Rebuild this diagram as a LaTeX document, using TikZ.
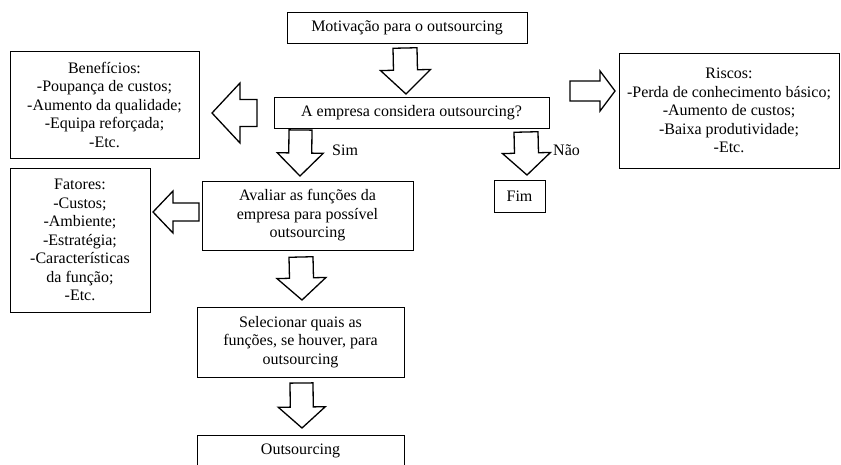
\documentclass[tikz,border=0pt]{standalone}
\usepackage{fontspec}
\setmainfont{Liberation Serif}
\usetikzlibrary{calc}

\tikzset{
  txt/.style={font=\fontsize{16}{18.5}\selectfont},
  box/.style={txt, draw, line width=0.9pt, align=center, inner sep=0pt},
  blockarr/.style={draw, line width=1.3pt, fill=white, line join=miter},
  lbl/.style={txt, inner sep=0pt, anchor=west}
}

% Hollow block arrow from tail #1 to tip #2:
% #3 half shaft width, #4 half head width, #5 head length
\newcommand\blockarrow[5]{%
  \path ($#2!#5!#1$) coordinate (bah);
  \draw[blockarr] ($#1!#3!90:#2$) -- ($(bah)!#3!90:#2$) -- ($(bah)!#4!90:#2$)
    -- #2 -- ($(bah)!#4!-90:#2$) -- ($(bah)!#3!-90:#2$) -- ($#1!#3!-90:#2$) -- cycle;%
}

\begin{document}
\begin{tikzpicture}[x=1pt, y=-1pt]
  \clip (0,0) rectangle (841,464);
  \useasboundingbox (0,0) rectangle (841,464);

  % boxes
  \node[box, minimum width=240pt, minimum height=31pt] (motiv) at (407,27.5)
    {Motivação para o outsourcing};
  \node[box, minimum width=275pt, minimum height=31pt] (emp) at (411.5,112.5)
    {A empresa considera outsourcing?};
  \node[box, minimum width=189pt, minimum height=107pt] (benef) at (104.5,104.5)
    {Benefícios:\\-Poupança de custos;\\-Aumento da qualidade;\\-Equipa reforçada;\\-Etc.};
  \node[box, minimum width=220pt, minimum height=115pt] (riscos) at (729,110.5)
    {Riscos:\\-Perda de conhecimento básico;\\-Aumento de custos;\\-Baixa produtividade;\\-Etc.};
  \node[box, minimum width=51pt, minimum height=32pt] (fim) at (519.5,196) {Fim};
  \node[box, minimum width=211pt, minimum height=69pt] (aval) at (307.5,215.5)
    {Avaliar as funções da\\empresa para possível\\outsourcing};
  \node[box, minimum width=140pt, minimum height=144pt] (fat) at (80,240)
    {Fatores:\\-Custos;\\-Ambiente;\\-Estratégia;\\-Características\\da função;\\-Etc.};
  \node[box, minimum width=207pt, minimum height=70pt] (selec) at (300.5,342)
    {Selecionar quais as\\funções, se houver, para\\outsourcing};
  \node[box, minimum width=207pt, minimum height=31pt] (outs) at (300.5,450.5)
    {Outsourcing};

  % arrow end points
  \coordinate (m1) at (405,48);    \coordinate (m2) at (406,94);
  \coordinate (b1) at (257,113);   \coordinate (b2) at (212,113);
  \coordinate (r1) at (570,91);    \coordinate (r2) at (615,91);
  \coordinate (s1) at (300.5,130); \coordinate (s2) at (300,176);
  \coordinate (n1) at (526,132);   \coordinate (n2) at (527,175);
  \coordinate (f1) at (199,212);   \coordinate (f2) at (153,212);
  \coordinate (v1) at (301,257);   \coordinate (v2) at (302,300);
  \coordinate (e1) at (301.5,383); \coordinate (e2) at (302,428);

  % block arrows
  \blockarrow{(m1)}{(m2)}{12pt}{25pt}{24pt}
  \blockarrow{(b1)}{(b2)}{13.5pt}{30pt}{28pt}
  \blockarrow{(r1)}{(r2)}{10pt}{20pt}{15pt}
  \blockarrow{(s1)}{(s2)}{11.5pt}{23pt}{23pt}
  \blockarrow{(n1)}{(n2)}{12pt}{24pt}{22pt}
  \blockarrow{(f1)}{(f2)}{9pt}{21pt}{20pt}
  \blockarrow{(v1)}{(v2)}{12pt}{24.5pt}{22pt}
  \blockarrow{(e1)}{(e2)}{11.5pt}{23.5pt}{21pt}

  % branch labels
  \node[lbl] (sim) at (332,150) {Sim};
  \node[lbl] (nao) at (553,150) {Não};
\end{tikzpicture}
\end{document}
